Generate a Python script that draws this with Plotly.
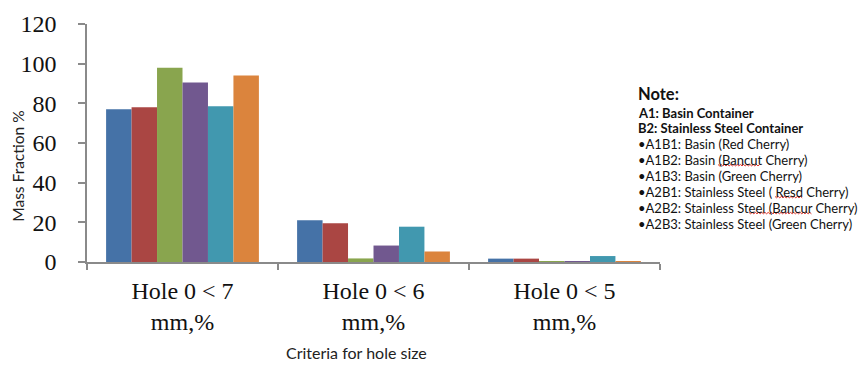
import plotly.graph_objects as go

# Sieve criteria (x categories) and the six treatment series
categories = ["Hole 0 < 7<br>mm,%", "Hole 0 < 6<br>mm,%", "Hole 0 < 5<br>mm,%"]
series_names = ["A1B1", "A1B2", "A1B3", "A2B1", "A2B2", "A2B3"]
series_values = [
    [77.0, 21.0, 1.7],   # A1B1
    [78.0, 19.5, 1.7],   # A1B2
    [98.0, 1.8, 0.2],    # A1B3
    [90.5, 8.3, 0.4],    # A2B1
    [78.5, 17.8, 3.0],   # A2B2
    [94.0, 5.3, 0.3],    # A2B3
]
series_colors = ["#4572A7", "#AA4643", "#89A54E", "#71588F", "#4198AF", "#DB843D"]

y_ticks = [0, 20, 40, 60, 80, 100, 120]

note_title = "Note:"
note_bold_lines = ["A1: Basin Container", "B2: Stainless Steel Container"]
note_lines = [
    "•A1B1: Basin (Red Cherry)",
    "•A1B2: Basin (Bancut Cherry)",
    "•A1B3: Basin (Green Cherry)",
    "•A2B1: Stainless Steel ( Resd Cherry)",
    "•A2B2: Stainless Steel (Bancur Cherry)",
    "•A2B3: Stainless Steel (Green Cherry)",
]

fig = go.Figure()
for name, vals, col in zip(series_names, series_values, series_colors):
    fig.add_trace(go.Bar(x=categories, y=vals, name=name,
                         marker=dict(color=col, line=dict(width=0))))

axis_col = "#8a8a8a"
sans = "Lato"
serif = "Liberation Serif"

W, H = 859, 365
L, R, T, B = 87, 199, 24, 102.5
pw, ph = W - L - R, H - T - B

fig.update_layout(
    width=W, height=H,
    margin=dict(l=L, r=R, t=T, b=B),
    paper_bgcolor="white", plot_bgcolor="white",
    barmode="group", bargap=0.2, bargroupgap=0,
    showlegend=False,
    xaxis=dict(
        type="category", range=[-0.5, 2.5],
        showline=True, linecolor=axis_col, linewidth=1.5,
        ticks="outside", tickson="boundaries", ticklen=6,
        tickcolor=axis_col, tickwidth=1.5,
        ticklabelstandoff=6,
        tickfont=dict(family=serif, size=24, color="#111111"),
        showgrid=False, zeroline=False,
    ),
    yaxis=dict(
        range=[0, 120], tickvals=y_ticks,
        showline=True, linecolor=axis_col, linewidth=1.5,
        ticks="outside", ticklen=7, tickcolor=axis_col, tickwidth=1.5,
        ticklabelstandoff=17,
        tickfont=dict(family=serif, size=24, color="#111111"),
        showgrid=False, zeroline=False,
    ),
)

annotations = [
    dict(text="Mass Fraction %", textangle=-90, x=18, y=167,
         font=dict(family=sans, size=15.5, color="#222222")),
    dict(text="Criteria for hole size", x=356, y=353,
         font=dict(family=sans, size=16, color="#222222")),
    dict(text="<b>" + note_title + "</b>", x=636, y=94, xanchor="left",
         font=dict(family=sans, size=16.5, color="#111111")),
]
line_y = 113
for t in note_bold_lines:
    annotations.append(dict(text="<b>" + t + "</b>", x=636, y=line_y, xanchor="left",
                            font=dict(family=sans, size=13, color="#111111")))
    line_y += 15.5
for t in note_lines:
    annotations.append(dict(text=t, x=636, y=line_y, xanchor="left",
                            font=dict(family=sans, size=13, color="#111111")))
    line_y += 16

# annotation positions given in pixels: convert to paper coordinates
for a in annotations:
    a["x"] = (a["x"] - L) / pw
    a["y"] = (H - B - a["y"]) / ph
    a.update(xref="paper", yref="paper", showarrow=False, yanchor="middle")
    a.setdefault("xanchor", "center")
fig.update_layout(annotations=annotations)

# red spell-check squiggles under three words of the note (pixel spans)
squiggles = [(718, 761, 165), (775, 803, 197), (749, 812, 213)]
shapes = []
for x0, x1, yb in squiggles:
    pts = []
    x = x0
    k = 0
    while x <= x1:
        yy = yb + (1.2 if k % 2 else -0.2)
        pts.append(((x - L) / pw, (H - B - yy) / ph))
        x += 1.6
        k += 1
    path = "M " + " L ".join(f"{px:.5f},{py:.5f}" for px, py in pts)
    shapes.append(dict(type="path", path=path, xref="paper", yref="paper",
                       line=dict(color="#e0302a", width=1)))
fig.update_layout(shapes=shapes)

fig.write_html("out.html")
